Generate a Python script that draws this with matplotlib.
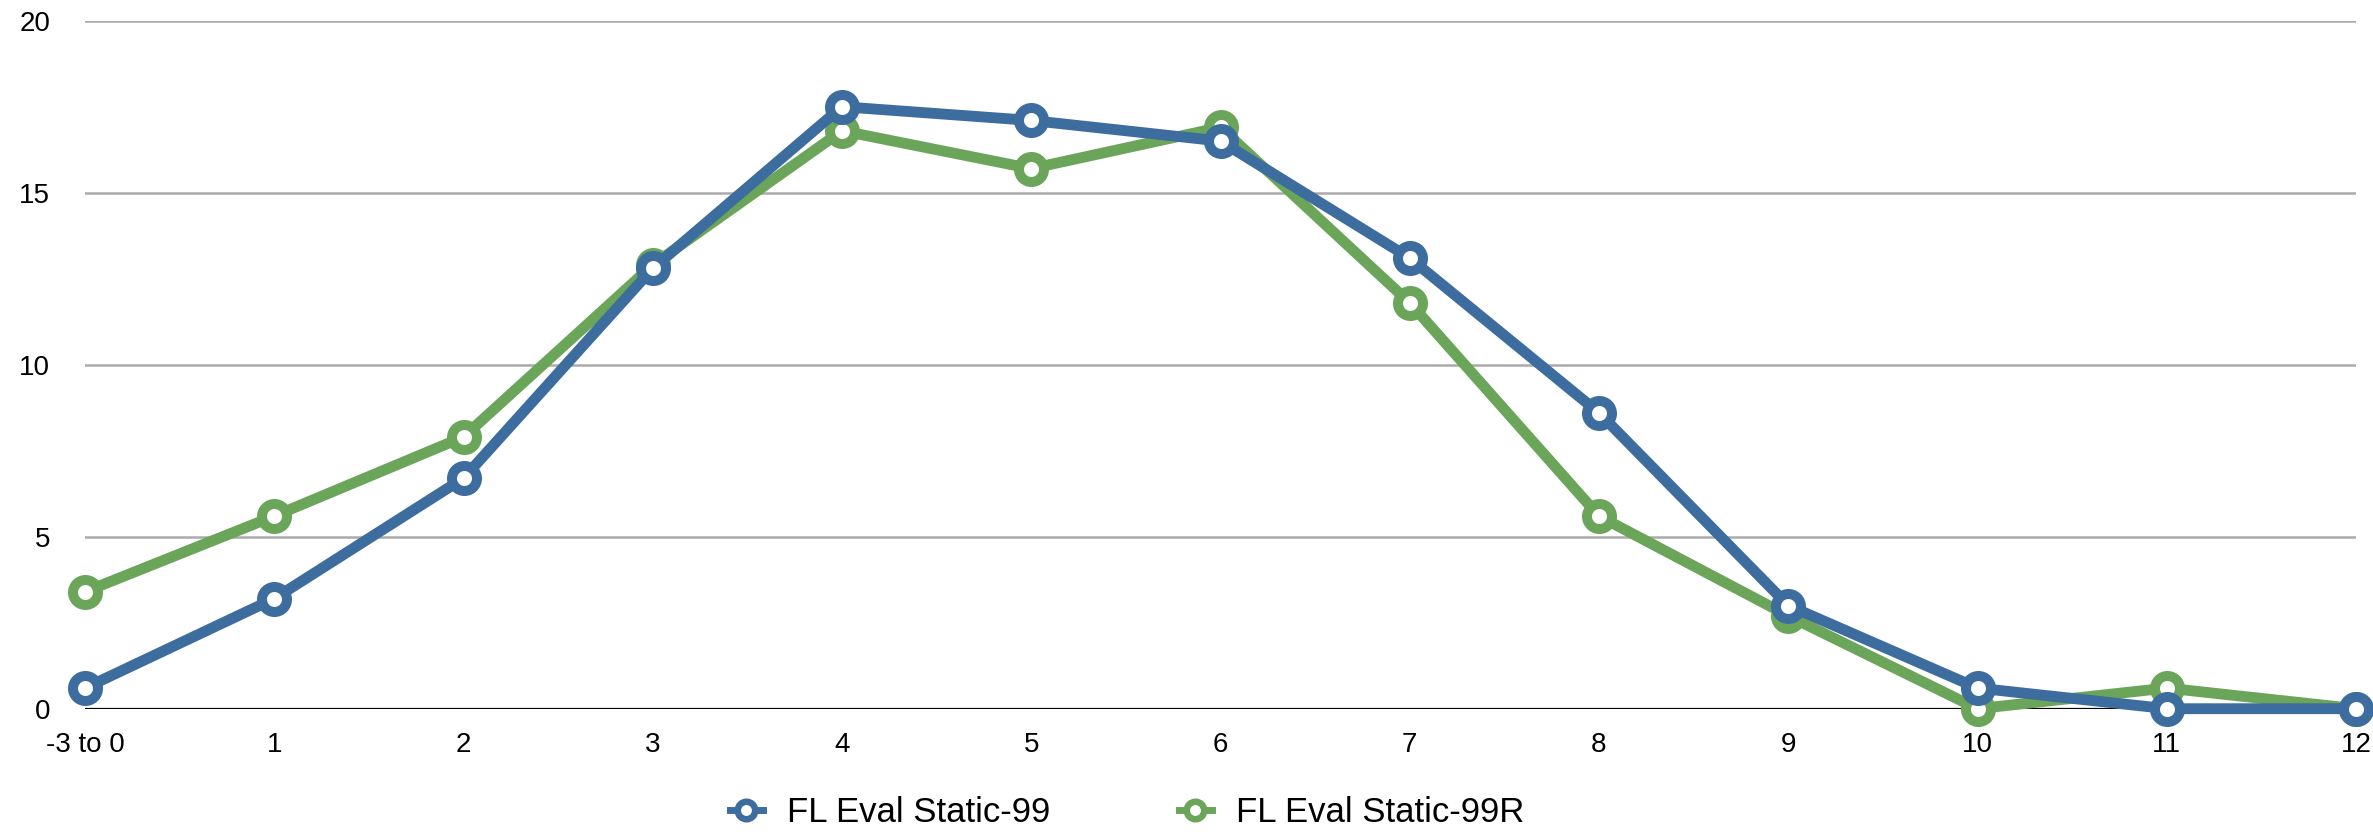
import matplotlib
matplotlib.use("Agg")
import matplotlib.pyplot as plt
from matplotlib.lines import Line2D

plt.rcParams['font.family'] = ['Liberation Sans', 'DejaVu Sans']

# Score categories along the x axis
categories = ["-3 to 0", "1", "2", "3", "4", "5", "6", "7", "8", "9", "10", "11", "12"]

# Percentage of offenders per score
static99 = [0.6, 3.2, 6.7, 12.8, 17.5, 17.1, 16.5, 13.1, 8.6, 3.0, 0.6, 0.0, 0.0]
static99r = [3.4, 5.6, 7.9, 12.9, 16.8, 15.7, 16.9, 11.8, 5.6, 2.7, 0.0, 0.6, 0.0]

series_names = ["FL Eval Static-99", "FL Eval Static-99R"]
y_ticks = [0, 5, 10, 15, 20]

BLUE = "#3d6d9e"
GREEN = "#6ba55a"

W, H = 2373, 832
fig = plt.figure(figsize=(W / 100, H / 100), dpi=100)
left_px, right_px = 85, 2356
top_px, bottom_px = 20.7, 708.7
ax = fig.add_axes([left_px / W, (H - bottom_px) / H,
                   (right_px - left_px) / W, (bottom_px - top_px) / H])

x = list(range(len(categories)))

ax.set_xlim(0, len(categories) - 1)
ax.set_ylim(0, 20)

# Horizontal grid lines and the baseline
for t in y_ticks[1:]:
    ax.axhline(t, color="#ababab", lw=1.8, zorder=1)
ax.axhline(0, color="black", lw=1.6, zorder=2)

line_kw = dict(lw=7.8, marker="o", markersize=18, markeredgewidth=7.2,
               markerfacecolor="white", clip_on=False, solid_joinstyle="round")
ax.plot(x, static99r, color=GREEN, markeredgecolor=GREEN, zorder=3, **line_kw)
ax.plot(x, static99, color=BLUE, markeredgecolor=BLUE, zorder=4, **line_kw)

for s in ax.spines.values():
    s.set_visible(False)

ax.set_xticks(x)
ax.set_xticklabels(categories, fontsize=20)
ax.set_yticks(y_ticks)
ax.set_yticklabels([str(t) for t in y_ticks], fontsize=20)
ax.tick_params(axis="x", length=0, pad=17)
ax.tick_params(axis="y", length=0, pad=25)

handles = [
    Line2D([], [], color=BLUE, lw=5, marker="o", markersize=12.6,
           markeredgewidth=4.7, markerfacecolor="white", markeredgecolor=BLUE),
    Line2D([], [], color=GREEN, lw=5, marker="o", markersize=12.6,
           markeredgewidth=4.7, markerfacecolor="white", markeredgecolor=GREEN),
]
fig.legend(handles, series_names, loc="center", bbox_to_anchor=(0.475, 0.023),
           ncol=2, frameon=False, fontsize=25, handlelength=0.95,
           handletextpad=0.7, columnspacing=3.7, borderpad=0)

fig.savefig("out.png", dpi=100)
